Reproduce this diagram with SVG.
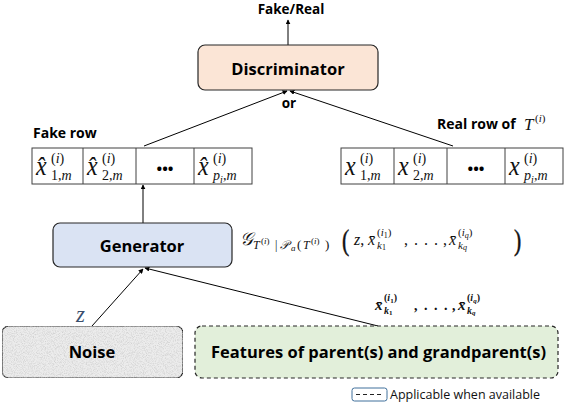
<svg xmlns="http://www.w3.org/2000/svg" width="566" height="406" viewBox="0 0 566 406">
<defs>
<marker id="ah" viewBox="0 0 8 8" refX="7" refY="4" markerWidth="5" markerHeight="5" orient="auto" markerUnits="userSpaceOnUse">
<path d="M0,0 L8,4 L0,8 z" fill="#000"/>
</marker>
<filter id="grain" x="0" y="0" width="100%" height="100%">
<feTurbulence type="fractalNoise" baseFrequency="1.1" numOctaves="2" seed="3" result="n"/>
<feColorMatrix in="n" type="matrix" values="0 0 0 0 0.55  0 0 0 0 0.55  0 0 0 0 0.55  0 0 0 1.6 -0.65" result="g"/>
<feComposite in="g" in2="SourceGraphic" operator="in" result="gi"/>
<feMerge><feMergeNode in="SourceGraphic"/><feMergeNode in="gi"/></feMerge>
</filter>
</defs>
<style>
.lbl{font-family:"Open Sans","Noto Sans","Liberation Sans",sans-serif;font-weight:bold;fill:#000}
.box{stroke:#262626;stroke-width:1.2}
.cell{fill:#fff;stroke:#404040;stroke-width:1}
.m{font-family:"Liberation Serif","DejaVu Serif",serif;font-style:italic;fill:#111}
.mu{font-family:"Liberation Serif","DejaVu Serif",serif;font-style:normal;fill:#111}
.conn{stroke:#000;stroke-width:1;fill:none}
.bx{font-family:"Liberation Serif","DejaVu Serif",serif;font-style:italic;fill:#111;font-size:24px}
.par{font-family:"Liberation Serif","DejaVu Serif",serif;fill:#111;stroke:#111;stroke-width:0.5;font-size:29px}
</style>
<rect width="566" height="406" fill="#fff"/>

<g id="connectors">
<line class="conn" x1="288" y1="45" x2="288" y2="20" marker-end="url(#ah)"/>
<line class="conn" x1="144" y1="146" x2="287" y2="91" marker-end="url(#ah)"/>
<line class="conn" x1="453" y1="146" x2="290" y2="91" marker-end="url(#ah)"/>
<line class="conn" x1="143" y1="223" x2="143" y2="185" marker-end="url(#ah)"/>
<line class="conn" x1="92" y1="326" x2="143" y2="269" marker-end="url(#ah)"/>
<line class="conn" x1="378" y1="326" x2="145" y2="268" marker-end="url(#ah)"/>
</g>

<g id="output-label">
<text class="lbl" x="291" y="14" font-size="13.5" text-anchor="middle">Fake/Real</text>
</g>

<g id="discriminator">
<rect class="box" x="198" y="45" width="180" height="45" rx="7" fill="#fbe5d6"/>
<text class="lbl" x="288" y="75" font-size="16.5" text-anchor="middle">Discriminator</text>
</g>

<g id="or-label">
<text class="lbl" x="289" y="108" font-size="13.5" text-anchor="middle">or</text>
</g>

<g id="fake-row">
<text class="lbl" x="33" y="138" font-size="14">Fake row</text>
<rect class="cell" x="32" y="148" width="220" height="36"/>
<line class="cell" x1="83" y1="148" x2="83" y2="184"/>
<line class="cell" x1="136" y1="148" x2="136" y2="184"/>
<line class="cell" x1="194" y1="148" x2="194" y2="184"/>
<text class="bx" x="36" y="175" transform="translate(0 175) scale(1 1.15) translate(0 -175)">x̂</text>
<text class="mu" x="51" y="163" font-size="14">(<tspan class="m">i</tspan>)</text>
<text class="mu" x="51" y="180" font-size="14">1,<tspan class="m">m</tspan></text>
<text class="bx" x="87" y="175" transform="translate(0 175) scale(1 1.15) translate(0 -175)">x̂</text>
<text class="mu" x="102" y="163" font-size="14">(<tspan class="m">i</tspan>)</text>
<text class="mu" x="102" y="180" font-size="14">2,<tspan class="m">m</tspan></text>
<text class="lbl" x="165" y="174" font-size="15" text-anchor="middle">•••</text>
<text class="bx" x="198" y="175" transform="translate(0 175) scale(1 1.15) translate(0 -175)">x̂</text>
<text class="mu" x="213" y="163" font-size="14">(<tspan class="m">i</tspan>)</text>
<text class="m" x="213" y="180" font-size="14">p</text>
<text class="m" x="220" y="183" font-size="10">i</text>
<text class="mu" x="223" y="180" font-size="14">,<tspan class="m">m</tspan></text>
</g>

<g id="real-row">
<text class="lbl" x="437" y="129" font-size="14">Real row of</text>
<text class="m" x="524" y="130" font-size="17">T</text>
<text class="mu" x="535" y="122" font-size="11">(<tspan class="m">i</tspan>)</text>
<rect class="cell" x="341" y="148" width="222" height="36"/>
<line class="cell" x1="394" y1="148" x2="394" y2="184"/>
<line class="cell" x1="447" y1="148" x2="447" y2="184"/>
<line class="cell" x1="505" y1="148" x2="505" y2="184"/>
<text class="bx" x="345" y="175" transform="translate(0 175) scale(1 1.15) translate(0 -175)">x</text>
<text class="mu" x="360" y="163" font-size="14">(<tspan class="m">i</tspan>)</text>
<text class="mu" x="360" y="180" font-size="14">1,<tspan class="m">m</tspan></text>
<text class="bx" x="398" y="175" transform="translate(0 175) scale(1 1.15) translate(0 -175)">x</text>
<text class="mu" x="413" y="163" font-size="14">(<tspan class="m">i</tspan>)</text>
<text class="mu" x="413" y="180" font-size="14">2,<tspan class="m">m</tspan></text>
<text class="lbl" x="476" y="174" font-size="15" text-anchor="middle">•••</text>
<text class="bx" x="509" y="175" transform="translate(0 175) scale(1 1.15) translate(0 -175)">x</text>
<text class="mu" x="524" y="163" font-size="14">(<tspan class="m">i</tspan>)</text>
<text class="m" x="524" y="180" font-size="14">p</text>
<text class="m" x="531" y="183" font-size="10">i</text>
<text class="mu" x="534" y="180" font-size="14">,<tspan class="m">m</tspan></text>
</g>

<g id="generator">
<rect class="box" x="53" y="223" width="179" height="44" rx="7" fill="#dae3f3"/>
<text class="lbl" x="142" y="252" font-size="16.5" text-anchor="middle">Generator</text>
</g>

<g id="generator-formula">
<text class="m" x="240" y="245" font-size="18">𝒢</text>
<text class="m" x="253" y="249" font-size="12">T</text>
<text class="mu" x="261" y="244" font-size="9">(<tspan class="m">i</tspan>)</text>
<text class="mu" x="275" y="249" font-size="12">|</text>
<text class="m" x="280" y="249" font-size="12">𝒫</text>
<text class="m" x="291" y="251" font-size="9">a</text>
<text class="mu" x="297" y="249" font-size="13">(</text>
<text class="m" x="303" y="249" font-size="12">T</text>
<text class="mu" x="311" y="244" font-size="9">(<tspan class="m">i</tspan>)</text>
<text class="mu" x="325" y="249" font-size="13">)</text>
<text class="par" x="342" y="250" transform="translate(342 250) scale(0.75 1) translate(-342 -250)">(</text>
<text class="m" x="354" y="245" font-size="16">z<tspan class="mu">,</tspan></text>
<text class="m" x="368" y="245" font-size="16">x̄</text>
<text class="mu" x="377" y="236" font-size="11">(<tspan class="m">i</tspan><tspan font-size="8" dy="2">1</tspan><tspan dy="-2">)</tspan></text>
<text class="m" x="377" y="249" font-size="11">k<tspan class="mu" font-size="8" dy="1">1</tspan></text>
<text class="mu" x="404" y="245" font-size="16">,</text>
<text class="mu" x="414" y="245" font-size="16">.</text>
<text class="mu" x="424" y="245" font-size="16">.</text>
<text class="mu" x="434" y="245" font-size="16">.</text>
<text class="mu" x="443" y="245" font-size="16">,</text>
<text class="m" x="449" y="245" font-size="16">x̄</text>
<text class="mu" x="458" y="236" font-size="11">(<tspan class="m">i</tspan><tspan class="m" font-size="8" dy="2">q</tspan><tspan dy="-2">)</tspan></text>
<text class="m" x="458" y="249" font-size="11">k<tspan font-size="8" dy="1">q</tspan></text>
<text class="par" x="514" y="250" transform="translate(514 250) scale(0.75 1) translate(-514 -250)">)</text>
</g>

<g id="noise">
<rect class="box" x="2" y="326" width="181" height="52" rx="7" fill="#ececec" filter="url(#grain)"/>
<text class="lbl" x="92" y="358" font-size="16.5" text-anchor="middle">Noise</text>
<text class="m" x="76" y="322" font-size="23" style="fill:#3b4f6e">z</text>
</g>

<g id="features">
<rect class="box" x="195" y="326" width="363" height="52" rx="7" fill="#e2efda" stroke-dasharray="4 3"/>
<text class="lbl" x="211" y="358" font-size="15.5" textLength="335" lengthAdjust="spacingAndGlyphs">Features of parent(s) and grandparent(s)</text>
</g>

<g id="features-formula" font-weight="bold">
<text class="m" x="375" y="310" font-size="15">x̄</text>
<text class="mu" x="384" y="301" font-size="10">(<tspan class="m">i</tspan><tspan font-size="7" dy="2">1</tspan><tspan dy="-2">)</tspan></text>
<text class="m" x="384" y="314" font-size="10">k<tspan class="mu" font-size="7" dy="1">1</tspan></text>
<text class="mu" x="414" y="310" font-size="14">,</text>
<text class="mu" x="424" y="310" font-size="14">.</text>
<text class="mu" x="434" y="310" font-size="14">.</text>
<text class="mu" x="444" y="310" font-size="14">.</text>
<text class="mu" x="452" y="310" font-size="14">,</text>
<text class="m" x="458" y="310" font-size="15">x̄</text>
<text class="mu" x="467" y="301" font-size="10">(<tspan class="m">i</tspan><tspan class="m" font-size="7" dy="2">q</tspan><tspan dy="-2">)</tspan></text>
<text class="m" x="467" y="314" font-size="10">k<tspan font-size="7" dy="1">q</tspan></text>
</g>

<g id="legend">
<rect x="352" y="388" width="35" height="13" rx="2.5" fill="#fff" stroke="#41719c" stroke-width="1"/>
<line x1="356" y1="394.5" x2="384" y2="394.5" stroke="#222" stroke-width="1" stroke-dasharray="4 3"/>
<text x="390" y="399" font-family="'Open Sans','Noto Sans','Liberation Sans',sans-serif" font-size="12.5" fill="#111">Applicable when available</text>
</g>
</svg>
